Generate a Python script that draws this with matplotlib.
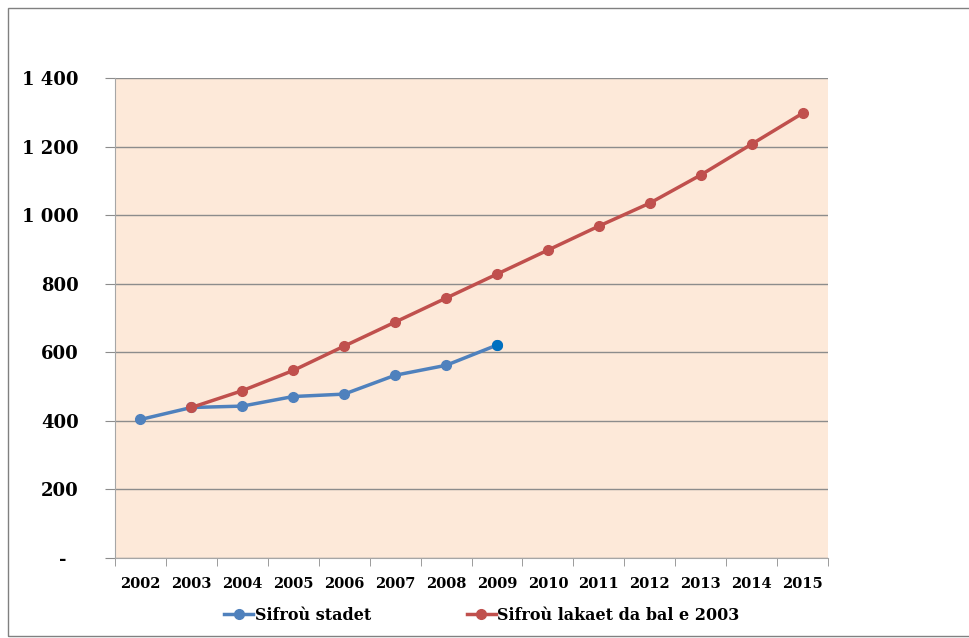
import matplotlib.pyplot as plt
from matplotlib.patches import Rectangle
from matplotlib.ticker import FixedLocator, NullFormatter

years = ["2002", "2003", "2004", "2005", "2006", "2007", "2008",
         "2009", "2010", "2011", "2012", "2013", "2014", "2015"]
stadet = [404, 439, 443, 471, 478, 533, 562, 621]
lakaet = [439, 488, 547, 618, 688, 758, 828, 898, 968, 1035, 1117, 1207, 1297]
yticks = [0, 200, 400, 600, 800, 1000, 1200, 1400]
ylabels = ["-  ", "200", "400", "600", "800", "1 000", "1 200", "1 400"]

blue = "#4F81BD"
red = "#C0504D"
font = "DejaVu Serif"

fig = plt.figure(figsize=(9.69, 6.38), dpi=100)
ax = fig.add_axes([115/969, 80/638, 713/969, 480/638])
ax.set_facecolor("#FDE9D9")

x = list(range(len(years)))
ax.plot(x[:len(stadet)], stadet, color=blue, lw=2.5, marker="o", ms=7,
        label="Sifroù stadet", zorder=3)
ax.plot(x[len(stadet) - 1], stadet[-1], "o", color="#0070C0", ms=7, zorder=4)
ax.plot(x[1:1 + len(lakaet)], lakaet, color=red, lw=2.5, marker="o", ms=7,
        label="Sifroù lakaet da bal e 2003", zorder=3)

ax.set_xlim(-0.5, len(years) - 0.5)
ax.set_ylim(0, 1400)
ax.set_yticks(yticks)
ax.set_yticklabels(ylabels, fontfamily=font, fontweight="bold", fontsize=13)
ax.yaxis.grid(True, color="#8C8C8C", lw=1)
ax.set_axisbelow(True)

ax.set_xticks(x)
ax.set_xticklabels(years, fontfamily=font, fontweight="bold", fontsize=10.5)
ax.tick_params(axis="x", which="major", length=0, pad=14)
ax.xaxis.set_minor_locator(FixedLocator([i - 0.5 for i in range(len(years) + 1)]))
ax.xaxis.set_minor_formatter(NullFormatter())
ax.tick_params(axis="x", which="minor", length=6, color="#8C8C8C")
ax.tick_params(axis="y", length=7, color="#8C8C8C", pad=19)

for s in ["top", "right"]:
    ax.spines[s].set_visible(False)
ax.spines["left"].set_color("#A6A6A6")
ax.spines["bottom"].set_color("#A6A6A6")

fig.legend(loc="center", bbox_to_anchor=(482/969, 1 - 615/638), ncol=2,
           frameon=False, handlelength=1.8, handletextpad=0.1, columnspacing=6,
           prop={"family": font, "weight": "bold", "size": 11.5})

fig.patches.append(Rectangle((8/969, 2/638), 1.2, 628/638, transform=fig.transFigure,
                             fill=False, edgecolor="#808080", lw=1))

fig.savefig("out.png", dpi=100)
